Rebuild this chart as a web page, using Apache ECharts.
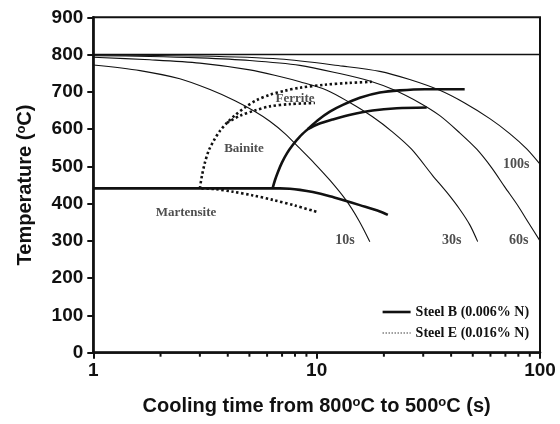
<!DOCTYPE html>
<html><head><meta charset="utf-8">
<script src="https://cdn.jsdelivr.net/npm/echarts@6/dist/echarts.min.js"></script>
<style>html,body{margin:0;padding:0;background:#fff}#c{width:560px;height:424px}</style>
</head><body><div id="c"></div>
<script>
// ---- data ----
const xTickValues = [1, 10, 100];
const minorTickValues = [2,3,4,5,6,7,8,9,20,30,40,50,60,70,80,90];
const line800 = [[1,800],[100,800]];
const cool10s = [[1,772],[1.62,757],[2.44,735],[3.33,706],[4.31,676],[5.29,647],[6.17,621],[7.21,588],[8.41,548],[9.82,507],[11.46,463],[13.51,410],[15.45,355],[17.3,298]];
const cool30s = [[1,793],[1.79,786],[3.0,777],[5.02,759],[6.84,741],[8.41,727],[11.04,705],[14.0,672],[17.8,633],[21.9,592],[26.6,546],[33.0,476],[38.3,430],[43.7,385],[48.5,343],[52.6,298]];
const cool60s = [[1,797],[1.79,795],[3.0,791],[5.02,784],[8.41,771],[12.68,749],[17.3,729],[22.4,704],[28.95,670],[35.6,636],[43.7,590],[52.1,546],[60.8,496],[69.5,445],[79.5,395],[89.0,348],[100,300]];
const cool100s = [[1,799],[3.0,796],[6.84,788],[13.1,769],[19.17,755],[26.1,733],[35.6,704],[46.0,670],[59.6,628],[73.2,588],[87.2,547],[100,506]];
const steelB_Ms = [[1,441],[6.84,441],[7.59,440],[8.41,437],[9.61,431],[11.46,420],[13.1,410],[15.6,396],[19.2,379],[20.83,370]];
const steelB_Bs = [[6.35,441],[6.5,462],[6.71,485],[6.99,510],[7.36,535],[7.83,558],[8.41,580],[9.13,600],[10.12,624],[11.46,647],[13.1,665],[15.61,684],[19.18,698],[23.57,704],[30.5,707],[46.0,707]];
const steelB_Fs = [[9.13,600],[10.12,613],[11.82,626],[14.0,638],[17.8,650],[22.85,656],[31.1,658]];
const steelE_Ms = [[3.05,441],[3.5,439],[4.22,432],[5.18,422],[6.37,410],[7.99,395],[10,378]];
const steelE_Bs = [[3.0,441],[3.065,475],[3.16,510],[3.29,543],[3.47,570],[3.69,595],[3.97,617],[4.31,637],[4.77,658],[5.4,678],[6.17,692],[7.21,703],[8.41,711],[10.88,719],[14.0,724],[17.66,727]];
const steelE_Fs = [[3.97,617],[4.54,636],[5.29,650],[6.17,661],[7.59,667],[9.82,670]];
const regionNames = ['Ferrite','Bainite','Martensite'];
const regionAt = [[8.0,681],[4.73,548],[2.6,375]];
const timeNames = ['10s','30s','60s','100s'];
const timeAt = [[13.4,302],[40.3,302],[80.4,302],[78.3,506]];
const nameB = 'Steel B (0.006% N)';
const nameE = 'Steel E (0.016% N)';

// ---- chart ----
const chart = echarts.init(document.getElementById('c'), null, {renderer:'canvas'});
const INK = '#111';
const SM = 0.3;
const thin = (d, w) => ({type:'line', data:d, showSymbol:false, symbol:'none', smooth:SM, silent:true, lineStyle:{color:INK, width:w||1.1}, z:2});
const thickB = d => ({name:nameB, type:'line', data:d, showSymbol:false, symbol:'none', smooth:SM, silent:true, itemStyle:{color:INK}, lineStyle:{color:INK, width:2.6}, z:3});
const dotE = d => ({name:nameE, type:'line', data:d, showSymbol:false, symbol:'none', smooth:SM, silent:true, itemStyle:{color:INK}, lineStyle:{color:INK, width:2.6, type:[2.4,2.6]}, z:3});
const labelSeries = (names, pts, size) => ({
  type:'scatter', data: pts.map((p,i)=>({value:p, name:names[i]})), symbol:'circle', symbolSize:1,
  itemStyle:{color:'rgba(0,0,0,0)'}, silent:true, z:5,
  label:{show:true, position:'inside', formatter: p=>p.name, fontFamily:'Liberation Serif', fontWeight:'bold', fontSize:size, color:'#222'}
});
const supRich = {s:{fontFamily:'Liberation Sans', fontWeight:'bold', fontSize:13, color:INK, verticalAlign:'top', padding:[0,0,8,0]}};
const option = {
  animation:false,
  backgroundColor:'#fff',
  grid:{left:93.3, right:20, top:17.3, bottom:71.3, show:true, borderColor:INK, borderWidth:2, backgroundColor:'transparent'},
  xAxis:{type:'log', logBase:10, min:1, max:100,
    name:'Cooling time from 800{s|o}C to 500{s|o}C (s)', nameLocation:'middle', nameGap:43,
    nameTextStyle:{fontFamily:'Liberation Sans', fontWeight:'bold', fontSize:20, color:INK, rich:supRich},
    axisLine:{lineStyle:{color:INK, width:2.6}},
    axisTick:{show:true, length:6, lineStyle:{color:INK, width:2}},
    axisLabel:{fontFamily:'Liberation Sans', fontWeight:'bold', fontSize:19, color:INK, margin:9},
    splitLine:{show:false}, minorTick:{show:false}, minorSplitLine:{show:false}
  },
  yAxis:{type:'value', min:0, max:900, interval:100,
    name:'Temperature ({s|o}C)', nameLocation:'middle', nameGap:57, nameRotate:90,
    nameTextStyle:{fontFamily:'Liberation Sans', fontWeight:'bold', fontSize:20, color:INK, rich:supRich},
    axisLine:{show:true, lineStyle:{color:INK, width:2.6}},
    axisTick:{show:true, length:6, lineStyle:{color:INK, width:2}},
    axisLabel:{fontFamily:'Liberation Sans', fontWeight:'bold', fontSize:19, color:INK, margin:10},
    splitLine:{show:false}
  },
  legend:{orient:'vertical', left:377, top:300, itemWidth:28, itemHeight:14, itemGap:7,
    textStyle:{fontFamily:'Liberation Serif', fontWeight:'bold', fontSize:14, color:INK},
    data:[{name:nameB, icon:'path://M0,0L28,0L28,2.6L0,2.6Z', itemStyle:{color:INK}},
          {name:nameE, itemStyle:{opacity:0}, lineStyle:{width:1.2, type:[1.2,1.8], color:INK}}],
    selectedMode:false
  },
  series:[
    thickB(steelB_Ms), thickB(steelB_Bs), thickB(steelB_Fs),
    dotE(steelE_Ms), dotE(steelE_Bs), dotE(steelE_Fs),
    thin(line800, 1.6), thin(cool10s), thin(cool30s), thin(cool60s), thin(cool100s),
    labelSeries(regionNames, regionAt, 13),
    labelSeries(timeNames, timeAt, 14),
    {type:'custom', clip:false, silent:true, z:6,
     data: minorTickValues.map(v=>[v,0]),
     encode:{x:0,y:1},
     renderItem:(params, api)=>{
       const p = api.coord([api.value(0), 0]);
       return {type:'line', shape:{x1:p[0], y1:p[1], x2:p[0], y2:p[1]+4}, style:{stroke:INK, lineWidth:2}};
     }}
  ]
};
chart.setOption(option);
</script></body></html>
